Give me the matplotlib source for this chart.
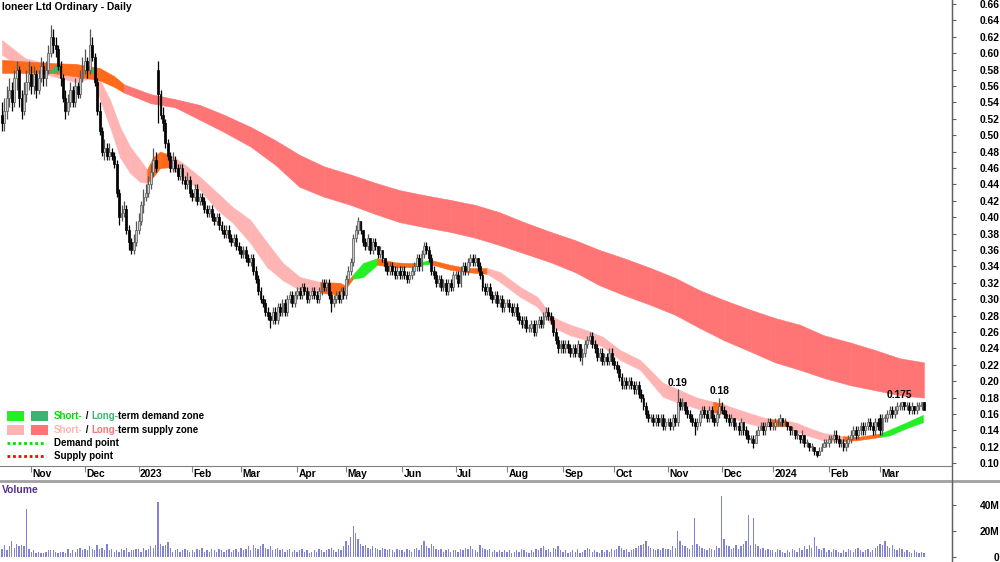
import matplotlib
matplotlib.use("Agg")
import matplotlib.pyplot as plt
from matplotlib.lines import Line2D
from matplotlib.patches import Rectangle
import numpy as np
import pandas as pd

plt.rcParams["font.family"] = ["Liberation Sans", "DejaVu Sans"]

# daily bars in cents, 14 Oct 2022 .. 27 Mar 2024, one line per month
opens = [
    52.5, 51.5, 53.0, 54.5, 55.5, 54.0, 57.0, 58.0, 54.5, 53.0, 55.0, 56.5,
    57.5, 56.0, 57.5, 55.5, 57.0, 58.5, 57.0, 58.0, 60.0, 62.0, 61.0, 60.5, 58.5, 57.0, 54.5, 53.0, 54.0, 55.5, 54.0, 56.0, 55.0, 57.0,
    58.0, 59.0, 58.0, 61.0, 59.5, 56.5, 53.0, 50.5, 48.0, 48.5, 47.5, 48.0, 47.5, 46.5, 43.0, 40.0, 40.5, 41.0, 38.5, 37.0, 36.0, 37.0,
    38.5, 39.5, 41.5, 42.5, 43.0, 44.0, 45.5, 47.0, 58.0, 55.0, 52.5, 51.5, 49.0, 47.5, 46.0, 47.0, 46.0, 45.0, 46.0, 44.5, 44.0, 44.5,
    43.0, 42.5, 43.5, 42.0, 42.5, 42.0, 41.0, 40.5, 41.0, 40.0, 39.5, 40.0, 39.0, 38.5, 38.0, 38.5, 37.5, 37.0, 37.5, 36.5,
    36.0, 35.5, 36.0, 35.0, 34.5, 35.0, 33.5, 32.5, 31.0, 30.0, 29.5, 28.5, 28.0, 27.5, 28.5, 27.5, 29.0, 28.5, 29.5, 28.5, 30.0, 30.5, 29.5,
    30.5, 31.0, 30.5, 31.5, 31.0, 30.0, 30.5, 31.0, 30.5, 30.0, 31.0, 32.0, 31.5, 32.0, 30.5, 29.5, 30.0, 30.5, 30.0, 31.0,
    30.5, 32.5, 33.5, 34.5, 37.5, 38.5, 39.5, 38.5, 37.0, 36.5, 37.5, 36.0, 37.0, 36.5, 35.5, 36.0, 35.0, 34.0, 33.5, 34.0, 33.5, 33.0, 33.5,
    33.0, 33.5, 33.0, 32.5, 33.0, 33.5, 34.0, 35.0, 34.0, 35.5, 36.5, 36.0, 35.0, 33.5, 33.0, 32.0, 32.5, 31.5, 32.0, 31.0, 32.0, 31.5,
    33.0, 33.0, 32.0, 33.5, 34.0, 33.5, 34.5, 35.0, 34.5, 35.0, 34.0, 33.0, 31.5, 31.0, 31.5, 30.5, 30.0, 30.5, 29.5, 30.0, 29.0,
    29.5, 29.5, 29.0, 28.5, 29.0, 28.0, 27.5, 27.0, 27.5, 26.5, 26.5, 27.0, 26.0, 27.0, 27.5, 27.0, 28.0, 28.5, 28.0, 27.5, 26.0, 25.0, 24.0,
    24.5, 24.0, 24.5, 24.0, 23.5, 24.0, 23.5, 24.5, 23.0, 23.5, 24.5, 25.0, 25.5, 24.5, 24.0, 23.0, 23.5, 22.5, 23.0, 22.5, 23.5,
    22.5, 22.0, 21.5, 20.5, 19.5, 20.0, 19.5, 20.0, 19.5, 19.0, 19.5, 18.5, 18.0, 17.0, 16.0, 15.5, 15.5, 15.0, 15.5, 15.0, 15.5, 14.5,
    15.0, 15.0, 14.5, 15.5, 15.0, 17.5, 17.0, 17.5, 16.5, 16.0, 15.5, 15.0, 14.5, 15.0, 16.0, 16.5, 16.0, 15.5, 16.5, 15.5, 15.0, 16.0,
    17.0, 16.5, 16.0, 15.5, 15.0, 15.5, 14.5, 14.5, 14.0, 15.0, 14.0, 13.5, 13.0, 13.0, 12.5, 13.5, 14.0, 14.5, 14.0, 14.5, 15.0,
    14.5, 14.5, 15.0, 15.0, 15.5, 15.0, 15.0, 14.5, 14.0, 14.0, 13.5, 13.5, 13.0, 13.5, 12.5, 12.5, 12.0, 12.0, 11.5, 11.0, 11.5, 12.0, 12.5,
    12.5, 13.0, 13.0, 13.5, 13.0, 12.5, 12.5, 12.0, 12.5, 13.0, 13.5, 14.0, 13.5, 14.0, 14.5, 14.0, 14.5, 15.0, 14.5, 14.0, 15.0,
    15.5, 14.0, 15.5, 15.5, 16.0, 16.5, 16.0, 16.5, 17.0, 17.0, 17.5, 17.0, 17.0, 16.5, 17.0, 16.5, 17.0, 17.0, 17.5,
]
highs = [
    54.0, 54.5, 56.0, 57.0, 56.5, 58.0, 59.0, 58.5, 55.5, 56.5, 58.0, 59.0,
    58.5, 58.5, 58.0, 58.0, 59.5, 59.0, 59.0, 61.0, 63.5, 63.0, 62.0, 61.0, 59.0, 57.5, 55.5, 55.0, 56.5, 56.0, 57.0, 56.5, 58.0, 59.5,
    60.5, 59.5, 63.0, 62.0, 60.0, 57.0, 54.0, 51.0, 49.5, 49.0, 49.0, 48.5, 48.0, 47.0, 43.5, 41.5, 42.0, 41.5, 39.0, 37.5, 38.0, 39.5,
    40.5, 42.0, 43.5, 44.0, 45.0, 46.5, 48.5, 48.0, 59.0, 55.5, 53.5, 52.0, 49.5, 48.0, 48.0, 47.5, 46.5, 46.5, 46.5, 45.0, 45.5, 45.0,
    43.5, 44.0, 44.0, 43.0, 43.0, 42.5, 41.5, 41.5, 41.5, 40.5, 40.5, 40.5, 39.5, 39.0, 39.0, 39.0, 38.0, 38.0, 38.0, 37.0,
    36.5, 36.5, 36.5, 35.5, 35.5, 35.5, 34.0, 33.0, 31.5, 30.5, 30.0, 29.0, 28.5, 29.0, 29.0, 29.5, 29.5, 30.0, 30.0, 30.5, 31.0, 31.0, 31.0,
    31.5, 31.5, 32.0, 32.0, 31.5, 31.0, 31.5, 31.5, 31.0, 31.5, 32.5, 32.5, 32.5, 32.5, 31.0, 30.5, 31.0, 31.0, 31.5, 31.5,
    33.0, 34.0, 35.0, 38.0, 39.0, 40.0, 39.5, 38.5, 37.5, 38.0, 37.5, 37.5, 37.5, 36.5, 36.5, 36.0, 35.0, 34.5, 34.5, 34.5, 34.0, 34.0, 34.0,
    34.0, 34.0, 33.5, 33.5, 34.0, 34.5, 35.5, 35.5, 36.0, 37.0, 37.0, 36.5, 35.5, 34.0, 33.5, 33.0, 33.0, 32.5, 32.5, 32.5, 32.5, 33.5,
    33.5, 33.5, 34.0, 34.5, 34.5, 35.0, 35.5, 35.5, 35.5, 35.0, 34.5, 33.5, 32.0, 32.0, 32.0, 31.0, 31.0, 31.0, 30.5, 30.5, 30.0,
    30.0, 30.0, 29.5, 29.5, 29.5, 28.5, 28.0, 28.0, 28.0, 27.0, 27.5, 27.5, 27.5, 28.0, 28.0, 28.5, 29.0, 29.0, 28.5, 28.0, 26.5, 25.5, 25.0,
    25.0, 25.0, 25.0, 24.5, 24.5, 24.5, 25.0, 24.5, 24.0, 25.0, 25.5, 26.0, 26.0, 25.0, 24.5, 24.0, 24.0, 23.5, 23.5, 24.0, 24.0,
    23.0, 22.5, 22.0, 21.0, 20.5, 20.5, 20.5, 20.5, 20.0, 20.0, 20.0, 19.0, 18.5, 17.5, 16.5, 16.0, 16.0, 16.0, 16.0, 16.0, 16.0, 15.5,
    15.5, 15.5, 16.0, 16.0, 19.0, 18.0, 18.0, 17.5, 17.0, 16.5, 16.0, 15.5, 15.5, 16.5, 17.0, 17.0, 16.5, 17.0, 17.0, 16.0, 16.5, 18.0,
    17.5, 17.0, 16.5, 16.0, 16.0, 15.5, 15.0, 15.0, 15.5, 15.0, 14.5, 14.0, 13.5, 13.5, 14.0, 14.5, 15.0, 15.0, 15.0, 15.5, 15.5,
    15.0, 15.5, 15.5, 16.0, 15.5, 15.5, 15.0, 14.5, 14.5, 14.0, 14.0, 13.5, 14.0, 13.5, 13.0, 12.5, 12.5, 12.0, 11.5, 12.0, 12.5, 13.0, 13.0,
    13.5, 13.5, 14.0, 14.0, 13.5, 13.0, 13.0, 13.0, 13.5, 14.0, 14.5, 14.5, 14.5, 15.0, 15.0, 15.0, 15.5, 15.5, 15.0, 15.5, 15.5,
    16.0, 16.0, 16.0, 16.5, 17.0, 17.0, 17.0, 17.5, 17.5, 17.5, 17.5, 17.5, 17.5, 17.5, 17.0, 17.5, 17.5, 17.5, 17.5,
]
lows = [
    50.5, 50.5, 52.0, 53.5, 53.0, 53.5, 55.5, 53.5, 52.0, 52.5, 54.0, 55.5,
    55.0, 55.0, 54.5, 55.0, 56.5, 56.0, 56.0, 57.5, 59.5, 60.0, 59.5, 58.0, 56.0, 54.0, 52.0, 52.5, 53.5, 53.5, 53.5, 54.5, 54.5, 56.5,
    57.5, 57.0, 57.5, 59.0, 56.0, 52.5, 50.0, 47.5, 47.0, 47.0, 47.0, 47.0, 46.0, 42.5, 39.0, 39.5, 40.0, 38.0, 36.0, 35.5, 35.5, 36.5,
    38.0, 39.0, 40.5, 42.0, 42.5, 43.5, 45.0, 45.5, 51.5, 52.0, 50.5, 48.5, 47.0, 45.5, 45.5, 45.5, 44.5, 44.5, 44.0, 43.5, 43.5, 42.5,
    42.0, 42.0, 41.5, 41.5, 41.5, 40.5, 40.0, 40.0, 39.5, 39.0, 39.0, 38.5, 38.0, 37.5, 37.5, 37.0, 36.5, 36.5, 36.0, 35.5,
    35.0, 35.0, 34.5, 34.0, 34.0, 33.0, 32.0, 30.5, 29.5, 29.0, 28.0, 27.5, 26.5, 27.0, 27.0, 27.0, 28.0, 28.0, 28.0, 28.0, 29.5, 29.0, 29.0,
    30.0, 30.0, 30.0, 30.5, 29.5, 29.5, 30.0, 30.0, 29.5, 29.5, 30.5, 31.0, 31.0, 30.0, 28.5, 29.0, 29.5, 29.5, 29.5, 30.0,
    30.0, 32.0, 33.0, 34.0, 37.0, 38.0, 38.0, 36.5, 36.0, 36.0, 35.5, 35.5, 36.0, 35.0, 35.0, 34.5, 33.5, 33.0, 33.0, 33.0, 32.5, 32.5, 32.5,
    32.5, 32.5, 32.0, 32.0, 32.5, 33.0, 33.5, 33.5, 33.5, 35.0, 35.5, 34.5, 33.0, 32.5, 31.5, 31.5, 31.0, 31.0, 30.5, 30.5, 31.0, 31.0,
    32.5, 31.5, 31.5, 33.0, 33.0, 33.0, 34.0, 34.0, 34.0, 33.5, 32.5, 31.0, 30.5, 30.5, 30.0, 29.5, 29.5, 29.0, 29.0, 28.5, 28.5,
    29.0, 28.5, 28.0, 28.0, 27.5, 27.0, 26.5, 26.5, 26.0, 26.0, 26.0, 25.5, 25.5, 26.5, 26.5, 26.5, 27.5, 27.5, 27.0, 25.5, 24.5, 23.5, 23.5,
    23.5, 23.5, 23.5, 23.0, 23.0, 23.0, 23.0, 22.5, 22.0, 23.0, 24.0, 24.5, 24.0, 23.5, 22.5, 22.5, 22.0, 22.0, 22.0, 22.0, 22.0,
    21.5, 21.0, 20.0, 19.0, 19.0, 19.0, 19.0, 19.0, 18.5, 18.5, 18.0, 17.5, 16.5, 15.5, 15.0, 15.0, 14.5, 14.5, 14.5, 14.5, 14.0, 14.0,
    14.5, 14.0, 14.0, 14.5, 14.5, 16.5, 16.5, 16.0, 15.5, 15.0, 14.5, 13.5, 14.0, 14.5, 15.5, 15.5, 15.0, 15.0, 15.0, 14.5, 14.5, 15.5,
    16.0, 15.5, 15.0, 14.5, 14.5, 14.0, 14.0, 13.5, 13.5, 13.5, 13.0, 12.5, 12.5, 11.8, 12.5, 13.5, 14.0, 13.5, 13.5, 14.5, 14.0,
    14.0, 14.0, 14.5, 14.5, 14.5, 14.5, 14.0, 13.5, 13.5, 13.0, 13.0, 12.5, 12.5, 12.0, 12.0, 11.5, 11.5, 11.0, 10.8, 11.0, 11.5, 12.0, 12.0,
    12.0, 12.5, 12.5, 12.5, 12.0, 12.0, 11.5, 11.5, 12.0, 12.5, 13.0, 13.0, 13.0, 13.5, 13.5, 13.5, 14.0, 14.0, 13.5, 13.5, 14.0,
    13.5, 13.5, 15.0, 15.0, 15.5, 15.5, 15.5, 16.0, 16.5, 16.5, 16.5, 16.5, 16.0, 16.0, 16.0, 16.0, 16.5, 16.5, 16.5,
]
closes = [
    51.5, 53.0, 54.5, 55.5, 54.0, 57.0, 58.0, 54.5, 53.0, 55.0, 56.5, 57.5,
    56.0, 57.5, 55.5, 57.0, 58.5, 57.0, 58.0, 60.0, 62.0, 61.0, 60.5, 58.5, 57.0, 54.5, 53.0, 54.0, 55.5, 54.0, 56.0, 55.0, 57.0, 58.0,
    59.0, 58.0, 61.0, 59.5, 56.5, 53.0, 50.5, 48.0, 48.5, 47.5, 48.0, 47.5, 46.5, 43.0, 40.0, 40.5, 41.0, 38.5, 37.0, 36.0, 37.0, 38.5,
    39.5, 41.5, 42.5, 43.0, 44.0, 45.5, 47.0, 46.0, 55.0, 52.5, 51.5, 49.0, 47.5, 46.0, 47.0, 46.0, 45.0, 46.0, 44.5, 44.0, 44.5, 43.0,
    42.5, 43.5, 42.0, 42.5, 42.0, 41.0, 40.5, 41.0, 40.0, 39.5, 40.0, 39.0, 38.5, 38.0, 38.5, 37.5, 37.0, 37.5, 36.5, 36.0,
    35.5, 36.0, 35.0, 34.5, 35.0, 33.5, 32.5, 31.0, 30.0, 29.5, 28.5, 28.0, 27.5, 28.5, 27.5, 29.0, 28.5, 29.5, 28.5, 30.0, 30.5, 29.5, 30.5,
    31.0, 30.5, 31.5, 31.0, 30.0, 30.5, 31.0, 30.5, 30.0, 31.0, 32.0, 31.5, 32.0, 30.5, 29.5, 30.0, 30.5, 30.0, 31.0, 30.5,
    32.5, 33.5, 34.5, 37.5, 38.5, 39.5, 38.5, 37.0, 36.5, 37.5, 36.0, 37.0, 36.5, 35.5, 36.0, 35.0, 34.0, 33.5, 34.0, 33.5, 33.0, 33.5, 33.0,
    33.5, 33.0, 32.5, 33.0, 33.5, 34.0, 35.0, 34.0, 35.5, 36.5, 36.0, 35.0, 33.5, 33.0, 32.0, 32.5, 31.5, 32.0, 31.0, 32.0, 31.5, 33.0,
    33.0, 32.0, 33.5, 34.0, 33.5, 34.5, 35.0, 34.5, 35.0, 34.0, 33.0, 31.5, 31.0, 31.5, 30.5, 30.0, 30.5, 29.5, 30.0, 29.0, 29.5,
    29.5, 29.0, 28.5, 29.0, 28.0, 27.5, 27.0, 27.5, 26.5, 26.5, 27.0, 26.0, 27.0, 27.5, 27.0, 28.0, 28.5, 28.0, 27.5, 26.0, 25.0, 24.0, 24.5,
    24.0, 24.5, 24.0, 23.5, 24.0, 23.5, 24.5, 23.0, 23.5, 24.5, 25.0, 25.5, 24.5, 24.0, 23.0, 23.5, 22.5, 23.0, 22.5, 23.5, 22.5,
    22.0, 21.5, 20.5, 19.5, 20.0, 19.5, 20.0, 19.5, 19.0, 19.5, 18.5, 18.0, 17.0, 16.0, 15.5, 15.5, 15.0, 15.5, 15.0, 15.5, 14.5, 15.0,
    15.0, 14.5, 15.5, 15.0, 17.5, 17.0, 17.5, 16.5, 16.0, 15.5, 15.0, 14.5, 15.0, 16.0, 16.5, 16.0, 15.5, 16.5, 15.5, 15.0, 16.0, 17.0,
    16.5, 16.0, 15.5, 15.0, 15.5, 14.5, 14.5, 14.0, 15.0, 14.0, 13.5, 13.0, 13.0, 12.5, 13.5, 14.0, 14.5, 14.0, 14.5, 15.0, 14.5,
    14.5, 15.0, 15.0, 15.5, 15.0, 15.0, 14.5, 14.0, 14.0, 13.5, 13.5, 13.0, 13.5, 12.5, 12.5, 12.0, 12.0, 11.5, 11.0, 11.5, 12.0, 12.5, 12.5,
    13.0, 13.0, 13.5, 13.0, 12.5, 12.5, 12.0, 12.5, 13.0, 13.5, 14.0, 13.5, 14.0, 14.5, 14.0, 14.5, 15.0, 14.5, 14.0, 15.0, 14.5,
    14.0, 15.5, 15.5, 16.0, 16.5, 16.0, 16.5, 17.0, 17.0, 17.5, 17.0, 17.0, 16.5, 17.0, 16.5, 17.0, 17.0, 17.5, 16.5,
]
# volume in millions of shares
volume_m = [
    6, 9, 5, 8, 12, 7, 10, 8, 9, 8, 37, 6,
    4, 5, 3, 4, 3, 3, 4, 5, 5, 5, 4, 3, 4, 4, 3, 6, 3, 5, 4, 6, 7, 5,
    6, 5, 8, 6, 5, 9, 6, 7, 5, 10, 5, 6, 4, 5, 4, 6, 5, 7, 4, 5, 5, 6,
    6, 4, 7, 5, 6, 8, 7, 9, 42, 10, 8, 9, 11, 7, 4, 5, 6, 4, 5, 6, 5, 4,
    5, 4, 6, 5, 7, 4, 5, 4, 6, 5, 4, 6, 5, 4, 5, 6, 4, 5, 6, 4,
    7, 5, 6, 8, 5, 9, 7, 6, 8, 10, 7, 6, 8, 5, 6, 7, 5, 6, 4, 5, 6, 4, 5,
    4, 5, 6, 4, 5, 3, 4, 5, 4, 6, 5, 4, 5, 6, 7, 5, 4, 6, 5, 8,
    12, 9, 15, 24, 18, 14, 10, 8, 9, 7, 6, 8, 7, 6, 5, 7, 6, 5, 6, 5, 4, 6, 5,
    5, 4, 6, 5, 4, 6, 7, 5, 9, 12, 8, 7, 10, 8, 6, 5, 6, 4, 5, 6, 4, 5,
    5, 4, 6, 5, 7, 6, 8, 6, 5, 4, 9, 7, 6, 5, 6, 4, 5, 4, 5, 4, 5,
    4, 5, 3, 4, 5, 4, 6, 5, 4, 3, 5, 4, 6, 5, 7, 8, 5, 6, 4, 7, 6, 8, 5,
    4, 5, 3, 4, 5, 4, 6, 3, 4, 5, 7, 6, 4, 5, 4, 3, 5, 4, 5, 4, 6,
    5, 6, 8, 7, 5, 6, 4, 5, 6, 7, 8, 9, 10, 12, 8, 7, 6, 5, 6, 5, 7, 6,
    6, 5, 8, 7, 20, 12, 9, 8, 7, 6, 9, 30, 10, 8, 7, 6, 5, 7, 6, 5, 8, 7,
    47, 14, 9, 8, 6, 7, 9, 6, 8, 10, 12, 32, 9, 30, 10, 8, 6, 7, 5, 6, 5,
    5, 4, 6, 5, 4, 3, 5, 4, 6, 5, 4, 7, 5, 8, 6, 9, 7, 15, 8, 6, 5, 7, 4,
    5, 4, 6, 5, 4, 3, 5, 4, 6, 5, 4, 6, 7, 5, 4, 5, 6, 4, 5, 7, 8,
    10, 9, 12, 8, 7, 9, 6, 5, 7, 6, 4, 5, 4, 3, 5, 4, 3, 4, 3,
]

# long-term zone: bar index, upper and lower edge ($), state of the following segment
long_pos = [0, 9, 20, 30, 40, 46, 50, 61, 71, 81, 91, 102, 112, 122, 132, 143, 153, 163, 173,
            184, 194, 204, 214, 225, 235, 245, 255, 266, 276, 286, 296, 307, 317, 327, 337,
            348, 358, 368, 378]
long_top = [0.592, 0.590, 0.588, 0.587, 0.582, 0.572, 0.562, 0.550, 0.544, 0.537, 0.525, 0.510,
            0.494, 0.476, 0.462, 0.452, 0.442, 0.433, 0.427, 0.421, 0.415, 0.406, 0.394, 0.382,
            0.372, 0.360, 0.350, 0.338, 0.326, 0.311, 0.299, 0.287, 0.277, 0.269, 0.256, 0.247,
            0.238, 0.228, 0.223]
long_bot = [0.576, 0.576, 0.576, 0.572, 0.567, 0.559, 0.552, 0.539, 0.534, 0.519, 0.504, 0.486,
            0.464, 0.437, 0.425, 0.415, 0.404, 0.394, 0.388, 0.382, 0.375, 0.366, 0.356, 0.345,
            0.333, 0.317, 0.305, 0.293, 0.281, 0.265, 0.250, 0.236, 0.223, 0.214, 0.204, 0.195,
            0.189, 0.183, 0.180]
long_state = ["n", "n", "n", "n", "n", "n", "s", "s", "s", "s", "s", "s", "s", "s", "s", "s",
              "s", "s", "s", "s", "s", "s", "s", "s", "s", "s", "s", "s", "s", "s", "s", "s",
              "s", "s", "s", "s", "s", "s", "s"]
# small long-term demand patches (Nov 2022)
patch_pos = [19, 22, 24]
patch_top = [0.576, 0.586, 0.586]
patch_bot = [0.576, 0.577, 0.578]
patch2_pos = [36, 37, 38]
patch2_top = [0.578, 0.583, 0.578]
patch2_bot = [0.576, 0.576, 0.576]

# short-term zone
short_pos = [0.0, 9.4, 19.7, 29.9, 37.3, 40.2, 44.3, 48.4, 52.5, 56.6, 59.5, 61.9, 64.8, 68.9,
             74.2, 81.2, 88.2, 94.7, 101.7, 108.7, 115.2, 122.2, 130.4, 138.6, 140.6, 143.9,
             148.0, 153.8, 161.1, 167.3, 171.4, 175.5, 183.7, 190.7, 198.9, 204.2, 212.4, 219.4,
             225.9, 232.9, 239.9, 246.4, 253.4, 261.6, 271.0, 278.0, 284.9, 291.5, 295.2, 298.5,
             305.5, 312.0, 314.8, 321.8, 326.0, 330.0, 336.6, 344.8, 350.5, 360.0, 364.0, 371.0,
             377.6]
short_top = [0.616, 0.594, 0.586, 0.577, 0.580, 0.567, 0.543, 0.510, 0.486, 0.470, 0.458, 0.473,
             0.480, 0.476, 0.466, 0.449, 0.430, 0.412, 0.397, 0.369, 0.344, 0.327, 0.321, 0.320,
             0.317, 0.330, 0.344, 0.350, 0.345, 0.344, 0.345, 0.348, 0.342, 0.338, 0.338, 0.333,
             0.315, 0.303, 0.278, 0.269, 0.262, 0.254, 0.238, 0.226, 0.198, 0.189, 0.180, 0.175,
             0.173, 0.169, 0.162, 0.156, 0.154, 0.152, 0.149, 0.144, 0.137, 0.133, 0.132, 0.136,
             0.141, 0.150, 0.159]
short_bot = [0.598, 0.580, 0.573, 0.565, 0.570, 0.543, 0.510, 0.473, 0.454, 0.443, 0.442, 0.449,
             0.460, 0.461, 0.449, 0.433, 0.409, 0.393, 0.369, 0.339, 0.323, 0.311, 0.308, 0.305,
             0.312, 0.325, 0.327, 0.342, 0.339, 0.339, 0.342, 0.343, 0.336, 0.333, 0.331, 0.321,
             0.303, 0.291, 0.266, 0.256, 0.250, 0.242, 0.226, 0.214, 0.181, 0.173, 0.167, 0.162,
             0.161, 0.156, 0.149, 0.144, 0.145, 0.145, 0.138, 0.134, 0.128, 0.127, 0.128, 0.132,
             0.134, 0.143, 0.150]
short_state = ["s", "s", "s", "s", "s", "s", "s", "s", "s", "s", "n", "n", "n", "s", "s", "s",
               "s", "s", "s", "s", "s", "s", "n", "n", "n", "d", "d", "n", "n", "n", "d", "n",
               "n", "n", "s", "s", "s", "s", "s", "s", "s", "s", "s", "s", "s", "s", "s", "n",
               "s", "s", "s", "s", "n", "s", "s", "s", "s", "n", "n", "d", "d", "d", "d"]

month_names = ["Jan", "Feb", "Mar", "Apr", "May", "Jun", "Jul", "Aug", "Sep", "Oct", "Nov", "Dec"]
price_labels = [(277, 0.19, "0.19"), (294, 0.18, "0.18"), (368, 0.175, "0.175")]

n = len(closes)
assert len(opens) == n and len(highs) == n and len(lows) == n and len(volume_m) == n, \
    (len(opens), len(highs), len(lows), n, len(volume_m))

o = np.array(opens) / 100
c = np.array(closes) / 100
h = np.maximum(np.array(highs) / 100, np.maximum(o, c))
l = np.minimum(np.array(lows) / 100, np.minimum(o, c))
x = np.arange(n)
days = pd.bdate_range("2022-10-14", periods=n)

ORANGE = "#ff6a1a"
PINK = "#ffb4b4"
RED = "#ff7575"
GREEN = "#22f022"
DKGREEN = "#3cb371"
short_colors = {"s": PINK, "n": ORANGE, "d": GREEN}
long_colors = {"s": RED, "n": ORANGE, "d": DKGREEN}
FS = 7.4
LEG_FS = 7.0

fig = plt.figure(figsize=(10, 5.62), dpi=100)
ax = fig.add_axes([0, 1 - 466 / 562, 0.952, 466 / 562])
axv = fig.add_axes([0, 0, 0.952, 80 / 562])


def draw_zone(pos, top, bot, state, colors, z):
    for i in range(len(pos) - 1):
        col = colors[state[i]]
        ax.fill_between(pos[i:i + 2], top[i:i + 2], bot[i:i + 2], color=col,
                        lw=0.4, edgecolor=col, zorder=z)


draw_zone(short_pos, short_top, short_bot, short_state, short_colors, 1)
draw_zone(long_pos, long_top, long_bot, long_state, long_colors, 2)
ax.fill_between(patch_pos, patch_top, patch_bot, color=DKGREEN, lw=0, zorder=2.5)
ax.fill_between(patch2_pos, patch2_top, patch2_bot, color=DKGREEN, lw=0, zorder=2.5)

# candles
up = c >= o
body_lo = np.minimum(o, c)
body_h = np.maximum(np.abs(c - o), 0.0008)
for mask, face, edge in ((up, "#cccccc", "#555555"), (~up, "black", "black")):
    ax.vlines(x[mask], l[mask], h[mask], color=edge, lw=0.9, zorder=3)
    ax.bar(x[mask], body_h[mask], bottom=body_lo[mask], width=0.78, color=face,
           edgecolor=edge, lw=0.5, zorder=4)

for xi, yi, txt in price_labels:
    ax.text(xi, yi + 0.002, txt, ha="center", va="bottom", fontsize=FS,
            fontweight="bold", zorder=6)

ax.set_xlim(-0.82, 389.5)
ax.set_ylim(0.0966, 0.6649)
for side in ("left", "top"):
    ax.spines[side].set_visible(False)
ax.spines["bottom"].set_color("#808080")
ax.spines["right"].set_color("#606060")
ax.yaxis.tick_right()
ax.set_yticks(np.arange(0.10, 0.665, 0.02))
ax.set_yticklabels([f"{v:.2f}" for v in np.arange(0.10, 0.665, 0.02)])
ax.tick_params(axis="y", length=3, color="#606060", pad=31, labelsize=FS)
for lab in ax.get_yticklabels():
    lab.set_horizontalalignment("right")
    lab.set_fontweight("bold")

month_idx = [i for i in range(1, n) if days[i].month != days[i - 1].month]
ax.set_xticks(month_idx)
ax.set_xticklabels([])
ax.tick_params(axis="x", length=4, color="#808080", direction="out")
for i in month_idx:
    d = days[i]
    lab = str(d.year) if d.month == 1 else month_names[d.month - 1]
    ax.text(i + 0.6, -8 / 466, lab, transform=ax.get_xaxis_transform(), ha="left",
            va="center", fontsize=FS, fontweight="bold", clip_on=False)

# volume
axv.bar(x, volume_m, width=0.55, color="#8383d6", lw=0)
axv.set_xlim(-0.82, 389.5)
axv.set_ylim(-4.0, 57.5)
for side in ("left", "top", "bottom"):
    axv.spines[side].set_visible(False)
axv.spines["right"].set_color("#606060")
axv.set_xticks([])
axv.yaxis.tick_right()
axv.set_yticks([0, 20, 40])
axv.set_yticklabels(["0", "20M", "40M"])
axv.tick_params(axis="y", length=3, color="#606060", pad=31, labelsize=FS)
for lab in axv.get_yticklabels():
    lab.set_horizontalalignment("right")
    lab.set_fontweight("bold")
axv.patch.set_alpha(0)

# frame lines
fig.add_artist(Line2D([0, 1], [1 - 481 / 562] * 2, color="#a0a0a0", lw=2))
fig.add_artist(Line2D([0.952, 0.952], [0, 1], color="#606060", lw=1))


def fx(px):
    return px / 1000


def fy(py):
    return 1 - py / 562


fig.text(fx(2), fy(7), "Ioneer Ltd Ordinary - Daily", fontsize=FS, fontweight="bold",
         va="center", ha="left")
fig.text(fx(2), fy(490), "Volume", fontsize=FS, fontweight="bold", color="#55308d",
         va="center", ha="left")


# legend
def rich_line(py, parts):
    prev = fig.text(fx(54), fy(py), parts[0][0], color=parts[0][1], fontsize=LEG_FS,
                    fontweight="bold", va="center", ha="left")
    for txt, col in parts[1:]:
        prev = ax.annotate(txt, xy=(1, 0), xycoords=prev, va="bottom", ha="left",
                           color=col, fontsize=LEG_FS, fontweight="bold",
                           annotation_clip=False)


for py, c1, c2 in ((416, GREEN, DKGREEN), (430, PINK, RED)):
    fig.add_artist(Rectangle((fx(7), fy(py + 5)), fx(17), 10 / 562, color=c1, lw=0))
    fig.add_artist(Rectangle((fx(31), fy(py + 5)), fx(17), 10 / 562, color=c2, lw=0))
rich_line(416, [("Short-", "#00dd00"), (" / ", "black"), ("Long-", DKGREEN),
                ("term demand zone", "black")])
rich_line(430, [("Short-", PINK), (" / ", "black"), ("Long-", RED),
                ("term supply zone", "black")])
fig.add_artist(Line2D([fx(7), fx(46)], [fy(443)] * 2, color="#00dd00", lw=2, ls=(0, (1, 1))))
fig.add_artist(Line2D([fx(7), fx(46)], [fy(456)] * 2, color="red", lw=2, ls=(0, (1, 1))))
rich_line(443, [("Demand point", "black")])
rich_line(456, [("Supply point", "black")])

fig.savefig("out.png", dpi=100)
